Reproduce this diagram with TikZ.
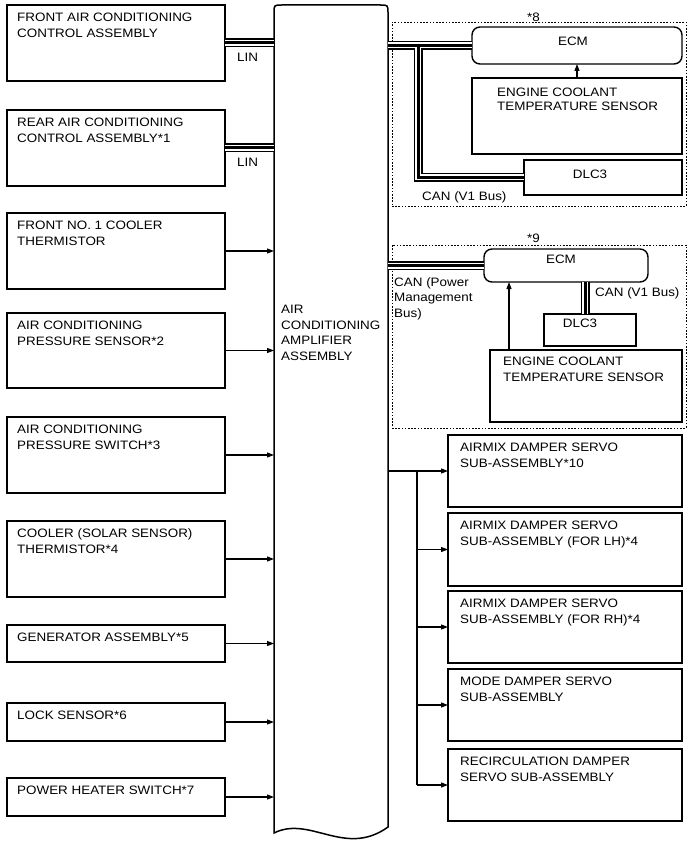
\documentclass[tikz,border=0pt]{standalone}
\usepackage{fontspec}
\setmainfont{Liberation Sans}[FakeStretch=1.1]
\usetikzlibrary{arrows.meta}
\newcommand\mkbox[5][box]{\node[#1, minimum width=#4, minimum height=#5] (#2) at (#3) {};}
\newcommand\mklbl[4]{\node[txt] (#1) at ([shift={(#3)}]#2.north west) {#4};}
\begin{document}
\begin{tikzpicture}[x=1pt,y=-1pt,
  txt/.style={font=\fontsize{12.2}{15.7}\selectfont, inner sep=0pt, anchor=north west, align=left},
  ctxt/.style={font=\fontsize{12.2}{15.7}\selectfont, inner sep=0pt, anchor=center},
  box/.style={draw, line width=1.4pt, anchor=north west, inner sep=0pt, outer sep=0pt},
  rbox/.style={box, rounded corners=8pt},
  grp/.style={draw, line width=0.9pt, dash pattern=on 1.6pt off 1.6pt, anchor=north west, inner sep=0pt, outer sep=0pt},
  arr/.style={line width=1.1pt, -{Triangle[length=7pt,width=5pt]}},
  plain/.style={line width=1.1pt},
  bus/.style={line width=9pt, draw=black, postaction={draw=white, line width=6pt}, postaction={draw=black, line width=3pt}}
]
\useasboundingbox (0,0) rectangle (690,853);

% groups
\mkbox[grp]{g8}{392,22}{294}{184}
\mkbox[grp]{g9}{392,245}{294}{183}
\node[txt] (g8t) at (527,13) {*8};
\node[txt] (g9t) at (527,234) {*9};

% amplifier
\node[inner sep=0pt, outer sep=0pt, minimum width=114, minimum height=828, anchor=north west] (amp) at (274,5) {};
\draw[line width=1.5pt] (274,833) -- (274,13) .. controls (274,5) .. (282,5) -- (380,5)
  .. controls (388,5) .. (388,13) -- (388,827)
  .. controls (345,858) and (310,815) .. (274,833) -- cycle;
\node[txt] (ampt) at (281,305) {AIR\\CONDITIONING\\AMPLIFIER\\ASSEMBLY};

% left boxes
\mkbox{b1}{7,5}{218}{76}
\mkbox{b2}{7,110}{218}{76}
\mkbox{b3}{7,213}{218}{76}
\mkbox{b4}{7,313}{218}{75}
\mkbox{b5}{7,417}{218}{76}
\mkbox{b6}{7,521}{218}{76}
\mkbox{b7}{7,625}{218}{37}
\mkbox{b8}{7,703}{218}{38}
\mkbox{b9}{7,778}{218}{38}
\mklbl{b1t}{b1}{10,7.7}{FRONT AIR CONDITIONING\\CONTROL ASSEMBLY}
\mklbl{b2t}{b2}{10,7.7}{REAR AIR CONDITIONING\\CONTROL ASSEMBLY*1}
\mklbl{b3t}{b3}{10,7.7}{FRONT NO. 1 COOLER\\THERMISTOR}
\mklbl{b4t}{b4}{10,7.7}{AIR CONDITIONING\\PRESSURE SENSOR*2}
\mklbl{b5t}{b5}{10,7.7}{AIR CONDITIONING\\PRESSURE SWITCH*3}
\mklbl{b6t}{b6}{10,7.7}{COOLER (SOLAR SENSOR)\\THERMISTOR*4}
\mklbl{b7t}{b7}{10,7.7}{GENERATOR ASSEMBLY*5}
\mklbl{b8t}{b8}{10,7.7}{LOCK SENSOR*6}
\mklbl{b9t}{b9}{10,7.7}{POWER HEATER SWITCH*7}

% *8 group
\mkbox[rbox]{ecm8}{472,27}{210}{37}
\mkbox{ect8}{472,78}{210}{76}
\mkbox{dlc8}{524,160}{158}{35}
\node[ctxt] (ecm8t) at (573,41) {ECM};
\node[ctxt] (dlc8t) at (590,174) {DLC3};
\node[txt, font=\fontsize{12.2}{14}\selectfont] (ect8t) at ([shift={(25,9.3)}]ect8.north west) {ENGINE COOLANT\\TEMPERATURE SENSOR};
\node[txt] (can8t) at (422,191) {CAN (V1 Bus)};

% *9 group
\mkbox[rbox]{ecm9}{484,249}{164}{33}
\mkbox{dlc9}{544,314}{92}{32}
\mkbox{ect9}{490,350}{192}{72}
\node[ctxt] (ecm9t) at (561,259) {ECM};
\node[ctxt] (dlc9t) at (580,323.5) {DLC3};
\mklbl{ect9t}{ect9}{13,7}{ENGINE COOLANT\\TEMPERATURE SENSOR}
\node[txt] (canpt) at (394,277) {CAN (Power\\Management\\Bus)};
\node[txt] (can9t) at (595,287) {CAN (V1 Bus)};

% servo boxes
\mkbox{s1}{448,435}{234}{72}
\mkbox{s2}{448,513}{234}{73}
\mkbox{s3}{448,591}{234}{72}
\mkbox{s4}{448,669}{234}{72}
\mkbox{s5}{448,749}{234}{72}
\mklbl{s1t}{s1}{12,8}{AIRMIX DAMPER SERVO\\SUB-ASSEMBLY*10}
\mklbl{s2t}{s2}{12,8}{AIRMIX DAMPER SERVO\\SUB-ASSEMBLY (FOR LH)*4}
\mklbl{s3t}{s3}{12,8}{AIRMIX DAMPER SERVO\\SUB-ASSEMBLY (FOR RH)*4}
\mklbl{s4t}{s4}{12,8}{MODE DAMPER SERVO\\SUB-ASSEMBLY}
\mklbl{s5t}{s5}{12,8}{RECIRCULATION DAMPER\\SERVO SUB-ASSEMBLY}

% LIN buses
\draw[bus] (b1.east) -- (b1.east -| amp.west);
\draw[bus] (b2.east) -- (b2.east -| amp.west);
\node[txt] (lin1) at (237,53) {LIN};
\node[txt] (lin2) at (237,158) {LIN};

% input arrows
\foreach \b in {b3,b4,b5,b6,b7,b8,b9}
  \draw[arr] (\b.east) -- (\b.east -| amp.west);

% CAN buses
\coordinate (v8) at (418,0);
\coordinate (v9) at (585,0);
\coordinate (a9) at (509,0);
\draw[bus] (amp.east |- ecm8.west) -- (ecm8.west) (ecm8.west -| v8) |- (dlc8.west);
\draw[arr] (ect8.north) -- (ecm8.south);
\draw[bus] (amp.east |- ecm9.west) -- (ecm9.west);
\draw[bus] (ecm9.south -| v9) -- (v9 |- dlc9.north);
\draw[arr] (ect9.north -| a9) -- (a9 |- ecm9.south);

% servo outputs
\coordinate (tr) at (417,0);
\draw[arr] (amp.east |- s1.west) -- (s1.west);
\draw[plain] (s1.west -| tr) -- (s5.west -| tr);
\foreach \s in {s2,s3,s4,s5}
  \draw[arr] (\s.west -| tr) -- (\s.west);
\end{tikzpicture}
\end{document}
